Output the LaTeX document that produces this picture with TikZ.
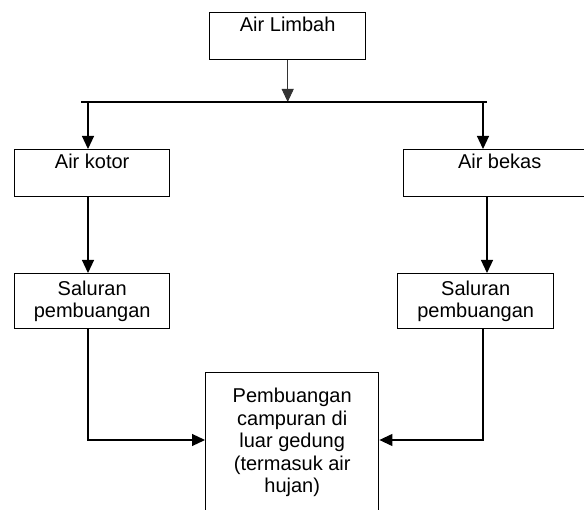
\documentclass[tikz,border=0pt]{standalone}
\usepackage{fontspec}
\setmainfont{Liberation Sans}
\usetikzlibrary{arrows.meta, positioning}

\begin{document}
\begin{tikzpicture}[x=1pt, y=-1pt,
        box/.style={rectangle, draw=black, line width=1.4pt, inner sep=0pt, font=\fontsize{20}{22.5}\selectfont},
        onebox/.style={box, text height=19pt, text depth=28pt},
        twobox/.style={box, minimum height=55pt, align=center},
        flow/.style={line width=1.2pt, -{Triangle[length=13pt, width=12pt]}},
        link/.style={line width=1.2pt}
    ]
    % --- batas gambar ---
    \clip (0,0) rectangle (584,510);

    % --- kotak ---
    \node[onebox, minimum width=156pt, anchor=north west] (limbah) at (209,12) {Air Limbah};
    \node[onebox, minimum width=155pt, anchor=north west] (kotor) at (14,149) {Air kotor};
    \node[onebox, minimum width=192pt, anchor=north west] (bekas) at (403,149) {Air bekas};
    \node[twobox, minimum width=155pt, anchor=north west] (salkiri) at (14,273) {Saluran\\pembuangan};
    \node[twobox, minimum width=156pt, anchor=north west] (salkanan) at (397,273) {Saluran\\pembuangan};
    \node[box, align=center, minimum width=173pt, inner ysep=15.6pt, anchor=north west] (campur) at (205,372)
        {Pembuangan\\campuran di\\luar gedung\\(termasuk air\\hujan)};

    % --- titik bantu ---
    \coordinate (busW) at (81,102);
    \coordinate (busE) at (487,102);
    \coordinate (dropL) at (88,102);
    \coordinate (dropR) at (483,102);
    \coordinate (turnL) at (88,440);
    \coordinate (turnR) at (483,440);

    % --- percabangan ---
    \draw[flow, line width=0.9pt, draw=black!80] (limbah.south) -- (limbah.south |- busW);
    \draw[link] (busW) -- (busE);
    \draw[flow] (dropL) -- (dropL |- kotor.north);
    \draw[flow] (dropR) -- (dropR |- bekas.north);

    % --- ke saluran ---
    \draw[flow] (dropL |- kotor.south) -- (dropL |- salkiri.north);
    \draw[flow] (busE |- bekas.south) -- (busE |- salkanan.north);

    % --- ke pembuangan campuran ---
    \draw[flow] (dropL |- salkiri.south) -- (turnL) -- (campur.west |- turnL);
    \draw[flow] (dropR |- salkanan.south) -- (turnR) -- (campur.east |- turnR);
\end{tikzpicture}
\end{document}
